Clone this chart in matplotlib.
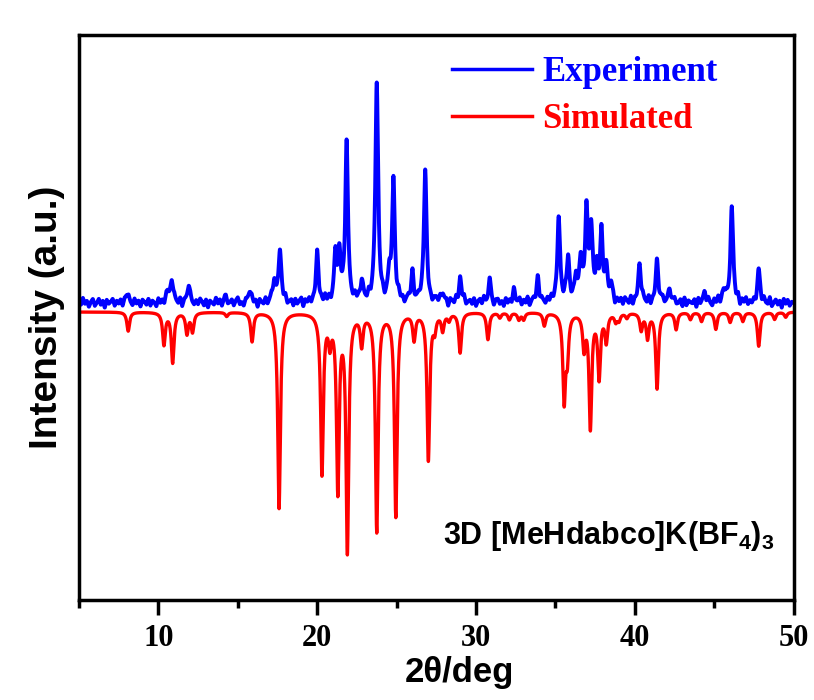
import numpy as np
import matplotlib.pyplot as plt
from matplotlib.ticker import MultipleLocator

plt.rcParams['mathtext.fontset'] = 'custom'
plt.rcParams['mathtext.bf'] = 'Liberation Sans:bold'
plt.rcParams['mathtext.rm'] = 'Liberation Sans'

# experiment: peak positions (2theta), heights above baseline
exp_pos = [8.0, 10.6, 10.85, 11.9, 14.2, 15.75, 17.3, 17.65, 20.0, 21.15, 21.4,
           21.85, 22.8, 23.75, 24.55, 24.8, 26.0, 26.8, 27.9, 29.0, 30.85, 32.4,
           33.9, 35.2, 35.8, 36.3, 36.6, 36.95, 37.25, 37.6, 37.9, 38.2, 38.5,
           40.3, 41.4, 42.2, 44.4, 45.6, 46.1, 47.8]
exp_height = [9, 10, 24, 18, 5, 13, 22, 54, 48, 46, 42,
              158, 20, 222, 22, 120, 27, 132, 10, 24, 22, 11,
              24, 84, 44, 22, 40, 90, 70, 30, 66, 30, 16,
              38, 42, 14, 10, 12, 96, 32]
exp_width = 0.2

# background jitter of the experimental trace, every 0.125 deg from 5 to 50
exp_noise = [3, -2, 5, -1, 2, -4, 1, 4, -3, 0, 4, -2, 2, -5, 3, -1, 1, 4, -3, 2,
             -1, 3, -4, 2, -2, 5, 0, -3, 4, -1, 2, -4, 3, 1, -2, 4, -3, 2, 0, -4,
             4, -1, 2, -3, 5, -2, 1, -4, 3, 0, -2, 4, -5, 2, 1, -3, 4, -1, -3, 2,
             -2, 4, 1, -3, 3, -5, 2, 0, -2, 5, -1, 3, -4, 1, 4, -2, 0, 3, -3, 2,
             5, -2, 0, -4, 3, 1, -3, 4, -1, 2, -5, 3, 0, -2, 4, -3, 1, 5, -2, -1,
             2, -4, 3, -1, 5, -3, 0, 2, -4, 3, -2, 1, 4, -5, 2, -1, 3, -3, 1, -2,
             4, -3, 1, -2, 5, -1, 3, -4, 0, 2, -3, 4, -2, 1, -5, 3, 2, -1, -3, 4,
             -1, 2, -4, 3, 0, -2, 5, -3, 1, 4, -4, 2, -1, 3, -5, 1, 4, -2, 0, 3,
             -3, 5, -1, 2, -4, 1, 3, -2, 4, -5, 0, 3, -1, 2, -3, 5, -2, 1, -4, 2,
             3, -1, 4, -3, 0, 2, -5, 3, 1, -2, 4, -4, 2, -1, 5, -3, 0, 2, -2, 4,
             -4, 1, 3, -2, 5, -1, -3, 4, 0, -5, 2, 3, -2, 1, -4, 4, -1, 2, -3, 5,
             -2, 0, 4, -3, 2, -1, 5, -4, 1, 3, -2, 4, -5, 2, 0, -3, 3, -1, 4, -2,
             1, -4, 3, 2, -3, 5, -1, 0, -4, 3, 2, -2, 4, -3, 1, -5, 3, 0, -1, 4,
             -3, 2, -1, 5, -4, 1, 3, -2, 0, 4, -5, 2, -1, 3, -3, 4, 1, -2, 5, -4,
             2, -1, 3, -3, 4, 0, -2, 5, -4, 1, -1, 3, -5, 2, 4, -2, 0, 3, -4, 1,
             4, -2, -1, 3, -4, 5, -3, 2, 0, -1, 3, -5, 4, -2, 1, 2, -3, 4, -1, -4,
             3, -1, 5, -3, 2, -2, 4, 0, -4, 1, 3, -2, 5, -5, 2, -1, 4, -3, 1, -2,
             2, -4, 3, 1, -3, 4, -1, -2, 5, -4, 0, 3, -2, 2, -5, 4, -1, 3, -3, 1,
             0]

# simulated: peak positions and depths (drawn downward)
sim_pos = [8.1, 10.35, 10.9, 11.8, 12.15, 14.3, 15.9, 17.6, 20.3, 20.8, 21.3,
           21.9, 22.8, 23.75, 24.95, 26.1, 27.0, 27.4, 27.9, 28.3, 29.0, 30.75,
           31.5, 32.1, 32.7, 33.0, 34.3, 35.55, 35.75, 36.8, 37.2, 37.75, 38.2,
           38.8, 39.0, 39.5, 40.4, 40.8, 41.4, 42.6, 43.5, 44.2, 45.1, 46.0,
           46.8, 47.8, 48.8, 49.5]
sim_height = [19, 32, 50, 21, 19, 4, 29, 196, 160, 26, 175,
              236, 30, 218, 203, 26, 147, 15, 17, 7, 40, 27,
              5, 7, 7, 7, 13, 86, 40, 34, 114, 64, 28,
              8, 7, 5, 17, 25, 76, 17, 7, 9, 17, 10,
              9, 34, 7, 5]
sim_width = 0.2

exp_offset = 297
sim_offset = 288

x = np.arange(5, 50.0001, 0.01)
noise_x = np.linspace(5, 50, len(exp_noise))


def lorentz(x, pos, height, w):
    y = np.zeros_like(x)
    for p, h in zip(pos, height):
        y += h / (1 + ((x - p) / (w / 2)) ** 2)
    return y


y_exp = exp_offset + np.interp(x, noise_x, exp_noise) + lorentz(x, exp_pos, exp_height, exp_width)
y_sim = sim_offset - lorentz(x, sim_pos, sim_height, sim_width)

fig = plt.figure(figsize=(8.14, 7), dpi=100)
ax = fig.add_axes([0.097, 0.143, 0.878, 0.807])

ax.plot(x, y_exp, color='#0000ff', lw=2.8, label='Experiment')
ax.plot(x, y_sim, color='#ff0000', lw=2.4, label='Simulated')

ax.set_xlim(5, 50)
ax.set_ylim(0, 565)
ax.set_yticks([])
ax.xaxis.set_major_locator(MultipleLocator(10))
ax.xaxis.set_minor_locator(MultipleLocator(5))
ax.tick_params(axis='x', which='major', direction='out', length=11, width=2.5,
               labelsize=22, pad=6)
ax.tick_params(axis='x', which='minor', direction='out', length=6, width=2.5)
for lab in ax.get_xticklabels():
    lab.set_fontfamily('Liberation Serif')
    lab.set_fontweight('bold')
for s in ax.spines.values():
    s.set_linewidth(2.5)

ax.set_xlabel('2θ/deg', fontsize=25, fontweight='bold', family='Liberation Sans')
ax.xaxis.set_label_coords(0.533, -0.1)
ax.set_ylabel('Intensity (a.u.)', fontsize=28, fontweight='bold', family='Liberation Sans', labelpad=10)

leg = ax.legend(loc='upper left', bbox_to_anchor=(0.522, 0.962), frameon=False,
                borderpad=0, borderaxespad=0,
                handlelength=2.3, handletextpad=0.3, labelspacing=0.4,
                prop={'family': 'Liberation Serif', 'weight': 'bold', 'size': 25},
                labelcolor='linecolor')
for h in leg.get_lines():
    h.set_linewidth(2.5)

ax.text(0.973, 0.113, r'3D [MeHdabco]K(BF$_\mathbf{4}$)$_\mathbf{3}$', transform=ax.transAxes,
        ha='right', va='center', fontsize=22, fontweight='bold', family='Liberation Sans')

fig.savefig('out.png', dpi=100)
